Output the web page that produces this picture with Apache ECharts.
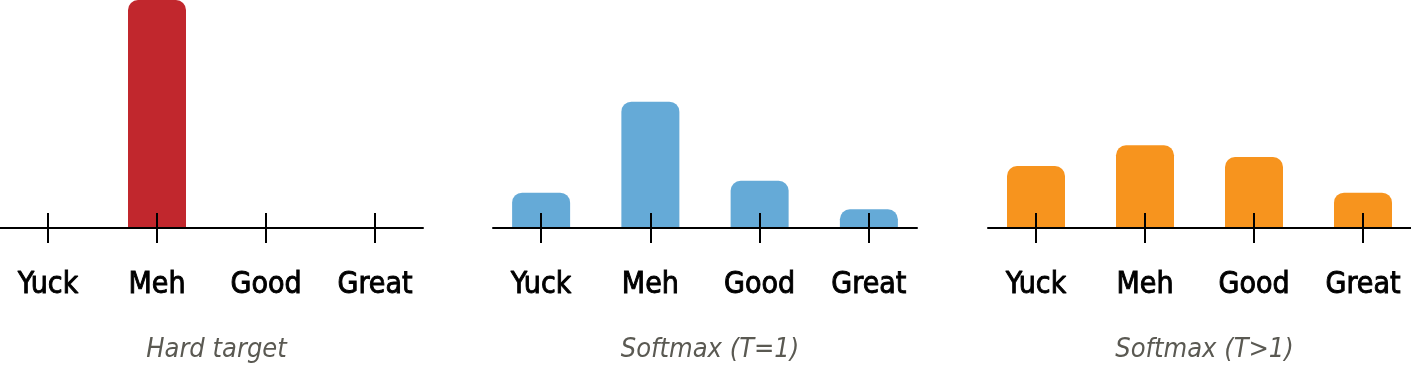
<!DOCTYPE html>
<html>
<head>
<meta charset="utf-8">
<script src="https://cdn.jsdelivr.net/npm/echarts@6/dist/echarts.min.js"></script>
<style>
html,body{margin:0;padding:0;background:#fff;}
#chart{width:1411px;height:371px;}
</style>
</head>
<body>
<div id="chart"></div>
<script>
const categories = ['Yuck', 'Meh', 'Good', 'Great'];
const hardTarget = [0, 1.0, 0, 0];
const softmaxT1 = [0.155, 0.554, 0.207, 0.082];
const softmaxTHigh = [0.272, 0.363, 0.311, 0.155];
const panelTitles = ['Hard target', 'Softmax (T=1)', 'Softmax (T>1)'];
const panelColors = ['#c1272d', '#65aad7', '#f7941e'];
const panelData = [hardTarget, softmaxT1, softmaxTHigh];

const grids = [
  {left: 0, width: 423},
  {left: 493, width: 424},
  {left: 988, width: 423}
];
const FONT = '"DejaVu Sans Condensed", "Liberation Sans Narrow", sans-serif';
const pad = 48 / 109;
const idx = categories.map((c, i) => i);

const option = {
  animation: false,
  backgroundColor: '#fff',
  title: grids.map((g, i) => ({
    text: panelTitles[i],
    left: g.left + g.width / 2,
    textAlign: 'center',
    top: 331,
    textStyle: {fontFamily: FONT, fontStyle: 'italic', fontWeight: 'normal', fontSize: 27, color: '#5a5952'}
  })),
  grid: grids.map(g => ({left: g.left, width: g.width, top: 0, height: 228})),
  xAxis: [],
  yAxis: [],
  series: []
};

grids.forEach((g, i) => {
  option.xAxis.push({
    type: 'value', gridIndex: i, min: -pad, max: 3 + pad, z: 5, position: 'bottom',
    splitLine: {show: false},
    axisLine: {show: true, onZero: false, lineStyle: {color: '#000', width: 2}},
    axisTick: {show: true, length: 15, customValues: idx, lineStyle: {color: '#000', width: 2}},
    axisLabel: {
      show: true, customValues: idx, margin: 42,
      formatter: v => categories[Math.round(v)],
      fontFamily: FONT, fontSize: 30, color: '#000', lineHeight: 30,
      textBorderColor: '#000', textBorderWidth: 0.9
    }
  });
  option.xAxis.push({
    type: 'value', gridIndex: i, min: -pad, max: 3 + pad, z: 5, position: 'bottom',
    splitLine: {show: false},
    axisLine: {show: false, onZero: false},
    axisTick: {show: true, inside: true, length: 15, customValues: idx, lineStyle: {color: '#000', width: 2}},
    axisLabel: {show: false}
  });
  option.yAxis.push({type: 'value', gridIndex: i, min: 0, max: 1, show: false});
  option.series.push({
    type: 'bar', xAxisIndex: i * 2, yAxisIndex: i,
    barWidth: 58,
    itemStyle: {color: panelColors[i], borderRadius: [10, 10, 0, 0]},
    data: panelData[i].map((v, k) => [k, v])
  });
});

const chart = echarts.init(document.getElementById('chart'), null, {renderer: 'canvas'});
chart.setOption(option);
</script>
</body>
</html>
